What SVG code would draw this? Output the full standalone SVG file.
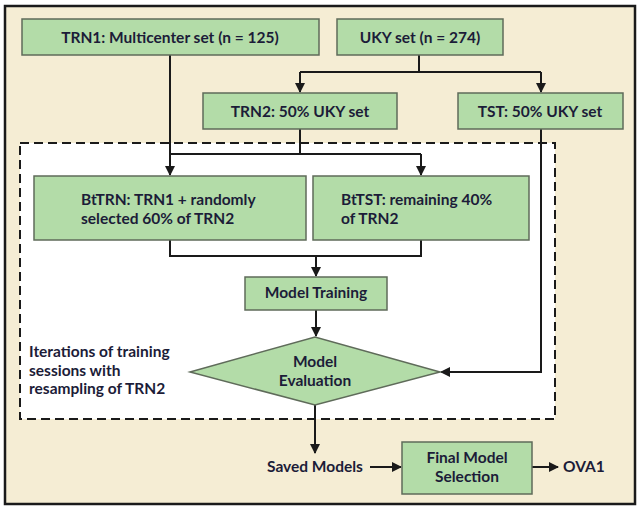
<svg xmlns="http://www.w3.org/2000/svg" width="640" height="511" viewBox="0 0 640 511">
<defs>
<style>
.box{fill:#b3dca8;stroke:#5f6b5a;stroke-width:1.5}
.t{font-family:Lato,"Liberation Sans",sans-serif;font-weight:700;font-size:15.5px;fill:#1c1c38}
.c{text-anchor:middle}
.ln{fill:none;stroke:#1a1a1a;stroke-width:2}
</style>
<marker id="ah" viewBox="0 0 10 10" refX="9" refY="5" markerWidth="5" markerHeight="5" markerUnits="strokeWidth" orient="auto">
<path d="M0,0 L10,5 L0,10 Z" fill="#1a1a1a"/>
</marker>
</defs>
<rect x="0" y="0" width="640" height="511" fill="#ffffff"/>
<rect x="5" y="6" width="630" height="498" fill="#f5edd4" stroke="#1a1a1a" stroke-width="2.5"/>
<rect id="loop" x="20" y="143" width="535" height="276" fill="#ffffff" stroke="#1a1a1a" stroke-width="2" stroke-dasharray="9,5"/>
<text class="t" x="29" y="357">Iterations of training</text>
<text class="t" x="29" y="375.6">sessions with</text>
<text class="t" x="29" y="394.2">resampling of TRN2</text>

<g id="connectors">
<path class="ln" d="M419,55 V72 M300,72 H541"/>
<path class="ln" d="M300,72 V92" marker-end="url(#ah)"/>
<path class="ln" d="M541,72 V92" marker-end="url(#ah)"/>
<path class="ln" d="M170,55 V175" marker-end="url(#ah)"/>
<path class="ln" d="M300,129 V154 M170,154 H421"/>
<path class="ln" d="M421,154 V175" marker-end="url(#ah)"/>
<path class="ln" d="M170,240 V256 H421 V240"/>
<path class="ln" d="M316,256 V276" marker-end="url(#ah)"/>
<path class="ln" d="M316,310 V336" marker-end="url(#ah)"/>
<path class="ln" d="M541,129 V372 H441" marker-end="url(#ah)"/>
<path class="ln" d="M315,405 V453" marker-end="url(#ah)"/>
<path class="ln" d="M370,467 H401" marker-end="url(#ah)"/>
<path class="ln" d="M532,467 H558" marker-end="url(#ah)"/>
</g>

<g id="trn1">
<rect class="box" x="22" y="19" width="297" height="36"/>
<text class="t c" x="170" y="43">TRN1: Multicenter set (n = 125)</text>
</g>
<g id="uky">
<rect class="box" x="337" y="19" width="166" height="36"/>
<text class="t c" x="420" y="43">UKY set (n = 274)</text>
</g>
<g id="trn2">
<rect class="box" x="203" y="93" width="194" height="36"/>
<text class="t c" x="300" y="117">TRN2: 50% UKY set</text>
</g>
<g id="tst">
<rect class="box" x="458" y="93" width="165" height="36"/>
<text class="t c" x="540" y="117">TST: 50% UKY set</text>
</g>
<g id="bttrn">
<rect class="box" x="34" y="176" width="272" height="64"/>
<text class="t" x="81" y="205">BtTRN: TRN1 + randomly</text>
<text class="t" x="81" y="223.6">selected 60% of TRN2</text>
</g>
<g id="bttst">
<rect class="box" x="313" y="176" width="216" height="64"/>
<text class="t" x="341" y="205">BtTST: remaining 40%</text>
<text class="t" x="341" y="223.6">of TRN2</text>
</g>
<g id="training">
<rect class="box" x="245" y="277" width="142" height="33"/>
<text class="t c" x="316" y="298">Model Training</text>
</g>
<g id="evaluation">
<polygon class="box" points="190,372 315,337 440,372 315,405"/>
<text class="t c" x="315" y="367">Model</text>
<text class="t c" x="315" y="386">Evaluation</text>
</g>
<g id="saved">
<text class="t" x="267" y="472">Saved Models</text>
</g>
<g id="final">
<rect class="box" x="402" y="442" width="130" height="52"/>
<text class="t c" x="467" y="463">Final Model</text>
<text class="t c" x="467" y="482">Selection</text>
</g>
<g id="ova1">
<text class="t" x="563" y="472">OVA1</text>
</g>
</svg>
